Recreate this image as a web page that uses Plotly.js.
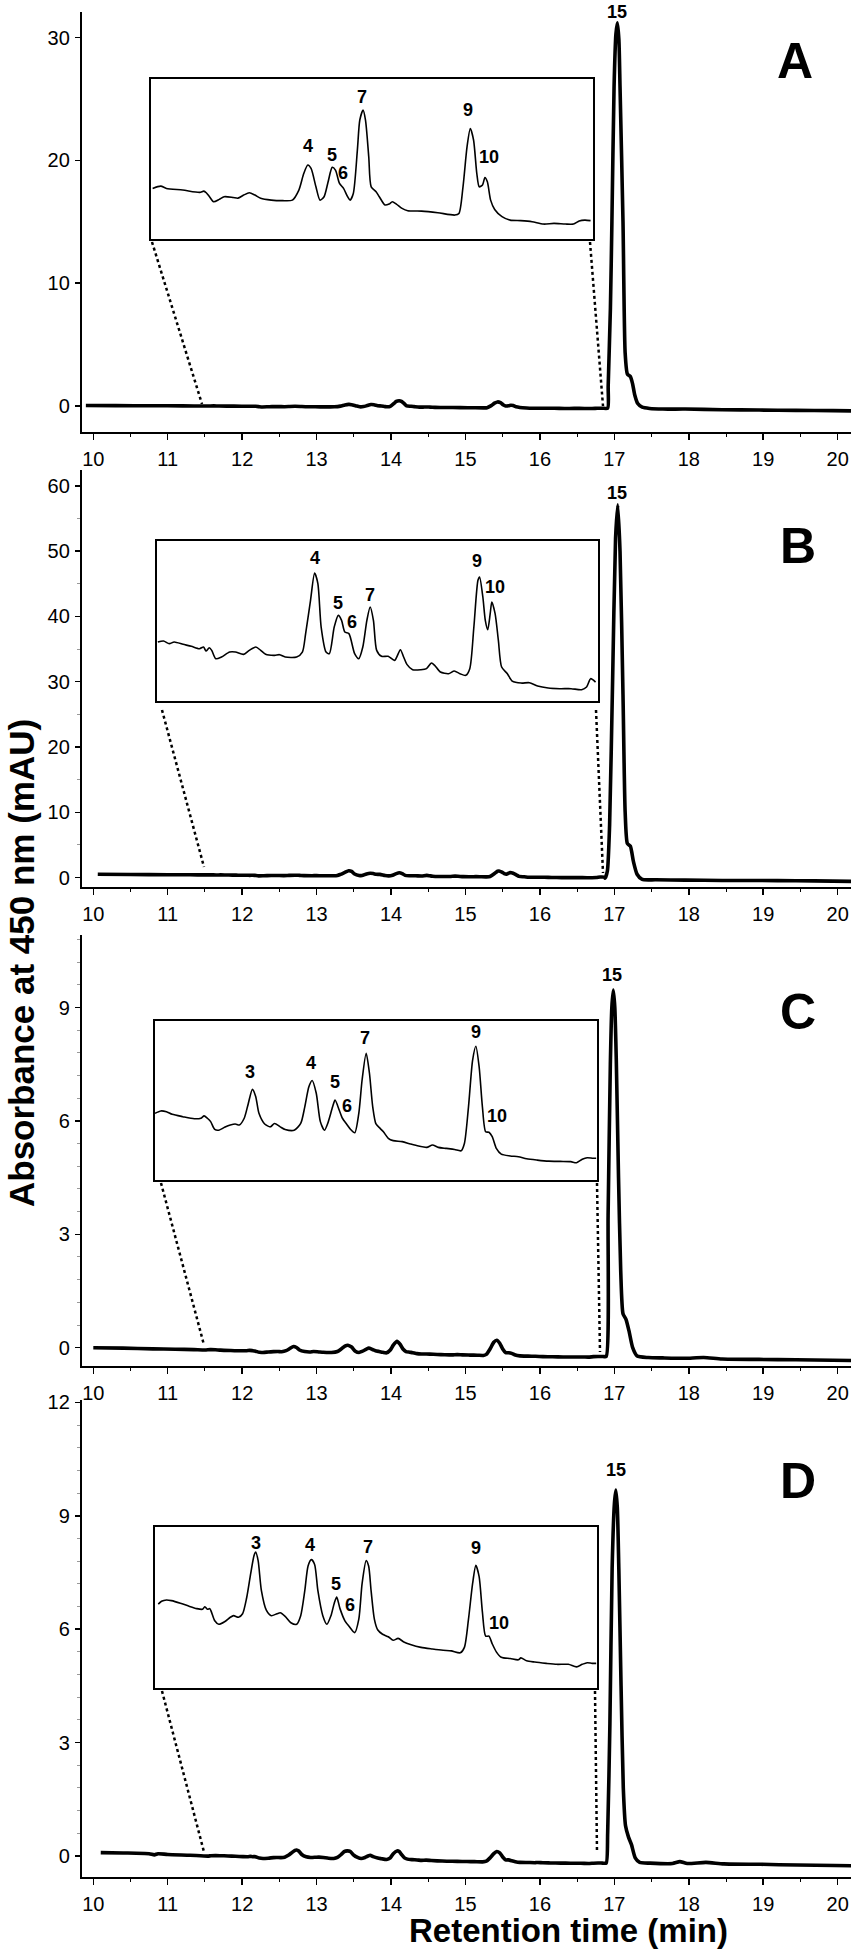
<!DOCTYPE html>
<html><head><meta charset="utf-8">
<script src="https://cdn.plot.ly/plotly-3.0.1.min.js"></script>
<style>html,body{margin:0;padding:0;background:#fff;}</style>
</head><body>
<div id="chart" style="width:866px;height:1950px;"></div>
<script>
// ---------------- DATA ----------------
const panelNames = ['A','B','C','D'];
const peak15Label = '15';
const xTickVals = [10,11,12,13,14,15,16,17,18,19,20];

// Panel A
const A_pre_t = [9.9, 10.3, 10.8, 11.2];
const A_pre_v = [0.04, 0.03, 0.02, 0.01];
const A_ins_t = [11.52,11.62,11.69,11.89,12.10,12.15,12.18,12.22,12.27,12.34,12.40,12.51,12.57,12.64,12.71,12.78,12.85,12.98,13.12,13.24,13.32,13.38,13.43,13.47,13.53,13.58,13.63,13.68,13.73,13.77,13.82,13.87,13.92,13.95,13.99,14.04,14.07,14.11,14.14,14.18,14.21,14.27,14.31,14.38,14.43,14.47,14.52,14.59,14.66,14.83,15.03,15.24,15.29,15.34,15.39,15.43,15.47,15.51,15.54,15.58,15.61,15.64,15.68,15.73,15.82,15.92,16.05,16.19,16.33,16.46,16.60,16.70,16.77,16.84,16.91];
const A_ins_v = [-0.002,0.011,-0.002,-0.011,-0.024,-0.017,-0.026,-0.048,-0.076,-0.063,-0.048,-0.052,-0.056,-0.039,-0.026,-0.039,-0.057,-0.067,-0.070,-0.067,-0.011,0.081,0.128,0.109,0.007,-0.067,-0.048,0.035,0.115,0.100,0.026,-0.002,-0.048,-0.067,-0.030,0.211,0.378,0.433,0.378,0.174,0.007,-0.020,-0.048,-0.094,-0.089,-0.076,-0.089,-0.113,-0.126,-0.128,-0.137,-0.150,-0.141,0.007,0.230,0.331,0.267,0.081,0.007,0.017,0.059,0.035,-0.067,-0.119,-0.159,-0.178,-0.181,-0.187,-0.200,-0.196,-0.200,-0.200,-0.183,-0.178,-0.181];
const A_post_t = [16.917,16.947,16.967,16.996,17.021,17.041,17.061,17.076,17.116,17.145,17.175,17.215,17.245,17.274,17.314,17.374,17.473,17.652,17.95,18.447,18.944,19.44,19.937,20.235];
const A_post_v = [1.6,8,15,26,30.3,31.2,29.8,26,15,4.3,2.6,2.4,1.8,0.9,0.2,-0.1,-0.2,-0.25,-0.25,-0.3,-0.33,-0.36,-0.38,-0.4];
const A_labels = ['4','5','6','7','9','10'];
const A_labelT = [13.43,13.73,13.82,14.11,15.43,15.61];

// Panel B
const B_pre_t = [10.06, 10.5, 11.0, 11.3];
const B_pre_v = [0.5, 0.46, 0.43, 0.41];
const B_ins_t = [11.51,11.58,11.65,11.71,11.82,11.92,12.02,12.07,12.10,12.14,12.17,12.22,12.29,12.39,12.46,12.56,12.63,12.71,12.77,12.83,12.94,13.00,13.07,13.21,13.28,13.32,13.38,13.43,13.47,13.51,13.57,13.61,13.67,13.72,13.76,13.80,13.85,13.92,13.97,14.02,14.07,14.11,14.15,14.19,14.25,14.33,14.41,14.48,14.52,14.56,14.63,14.73,14.80,14.86,14.90,14.97,15.07,15.14,15.21,15.28,15.33,15.38,15.43,15.45,15.49,15.52,15.55,15.58,15.60,15.64,15.68,15.72,15.79,15.85,15.96,16.06,16.16,16.29,16.43,16.57,16.70,16.76,16.81,16.87];
const B_ins_v = [0.400,0.409,0.385,0.400,0.379,0.361,0.339,0.355,0.318,0.348,0.324,0.248,0.264,0.309,0.309,0.288,0.324,0.355,0.324,0.288,0.279,0.285,0.264,0.264,0.309,0.476,0.779,1.027,0.930,0.536,0.309,0.294,0.536,0.642,0.597,0.491,0.476,0.294,0.248,0.355,0.597,0.718,0.597,0.324,0.270,0.270,0.233,0.330,0.264,0.197,0.148,0.148,0.158,0.209,0.188,0.127,0.112,0.136,0.112,0.097,0.158,0.536,0.961,0.991,0.809,0.597,0.512,0.658,0.764,0.658,0.415,0.173,0.112,0.045,0.027,0.030,0.000,-0.018,-0.024,-0.024,-0.033,-0.009,0.067,0.036];
const B_post_t = [16.876,16.906,16.936,16.976,17.016,17.046,17.076,17.116,17.145,17.175,17.215,17.255,17.305,17.374,17.553,17.95,18.447,18.944,19.44,19.937,20.235];
const B_post_v = [-0.1,1.0,8,30,52,57.1,50,28,10,5.2,4.8,2.5,0.5,-0.3,-0.35,-0.4,-0.45,-0.45,-0.5,-0.55,-0.6];
const B_labels = ['4','5','6','7','9','10'];
const B_labelT = [13.43,13.72,13.80,14.11,15.45,15.60];

// Panel C
const C_pre_t = [10.0, 10.4, 10.8, 11.1, 11.35];
const C_pre_v = [0.0, -0.01, -0.03, -0.04, -0.05];
const C_ins_t = [11.50,11.57,11.64,11.71,11.84,11.98,12.06,12.10,12.14,12.18,12.23,12.28,12.35,12.42,12.48,12.53,12.59,12.64,12.69,12.73,12.77,12.84,12.91,12.96,13.03,13.09,13.20,13.28,13.33,13.38,13.42,13.47,13.52,13.57,13.61,13.67,13.70,13.75,13.79,13.84,13.89,13.94,13.99,14.03,14.08,14.12,14.16,14.20,14.25,14.29,14.35,14.41,14.52,14.62,14.72,14.82,14.89,14.96,15.06,15.16,15.24,15.28,15.33,15.38,15.42,15.46,15.50,15.54,15.58,15.62,15.67,15.73,15.84,15.94,16.04,16.17,16.31,16.45,16.58,16.65,16.72,16.78,16.85,16.89];
const C_ins_v = [-0.060,-0.051,-0.054,-0.064,-0.073,-0.081,-0.079,-0.070,-0.079,-0.092,-0.122,-0.125,-0.114,-0.105,-0.101,-0.105,-0.079,-0.022,0.032,0.005,-0.060,-0.101,-0.112,-0.099,-0.112,-0.122,-0.125,-0.099,-0.035,0.042,0.066,0.017,-0.092,-0.125,-0.099,-0.035,-0.009,-0.047,-0.079,-0.101,-0.122,-0.135,-0.060,0.068,0.171,0.094,-0.035,-0.101,-0.118,-0.131,-0.156,-0.165,-0.169,-0.178,-0.186,-0.191,-0.182,-0.191,-0.195,-0.199,-0.204,-0.176,-0.035,0.144,0.198,0.119,-0.035,-0.131,-0.133,-0.150,-0.195,-0.217,-0.224,-0.227,-0.235,-0.240,-0.244,-0.245,-0.246,-0.250,-0.237,-0.231,-0.233,-0.233];
const C_post_t = [16.916,16.946,16.966,16.986,17.006,17.026,17.056,17.086,17.116,17.156,17.196,17.246,17.306,17.455,17.652,17.95,18.2,18.447,18.944,19.44,19.937,20.235];
const C_post_v = [3.5,7.5,9.0,9.46,9.0,7.6,4.5,2.0,0.9,0.75,0.45,0.0,-0.22,-0.26,-0.27,-0.28,-0.26,-0.3,-0.31,-0.32,-0.33,-0.34];
const C_labels = ['3','4','5','6','7','9','10'];
const C_labelT = [12.69,13.42,13.70,13.79,14.08,15.42,15.56];

// Panel D
const D_pre_t = [10.1, 10.4, 10.75, 10.82, 10.87, 11.0, 11.3];
const D_pre_v = [0.09, 0.08, 0.06, 0.03, 0.06, 0.04, 0.02];
const D_ins_t = [11.54,11.58,11.64,11.70,11.81,11.91,12.01,12.08,12.11,12.14,12.17,12.19,12.23,12.28,12.35,12.42,12.46,12.52,12.57,12.62,12.67,12.71,12.73,12.76,12.80,12.86,12.92,12.99,13.03,13.09,13.16,13.23,13.28,13.33,13.37,13.41,13.45,13.49,13.55,13.60,13.65,13.69,13.72,13.76,13.82,13.87,13.94,13.99,14.03,14.08,14.11,14.14,14.18,14.22,14.28,14.35,14.41,14.47,14.54,14.62,14.75,14.89,15.02,15.12,15.23,15.28,15.33,15.38,15.42,15.46,15.50,15.54,15.58,15.62,15.67,15.73,15.84,15.94,15.97,16.04,16.14,16.28,16.41,16.55,16.65,16.72,16.78,16.84,16.89];
const D_ins_v = [-0.003,0.006,0.010,0.008,0.000,-0.009,-0.017,-0.019,-0.011,-0.019,-0.017,-0.028,-0.055,-0.066,-0.058,-0.044,-0.039,-0.044,-0.033,0.017,0.094,0.149,0.160,0.133,0.039,-0.022,-0.039,-0.033,-0.030,-0.041,-0.061,-0.066,-0.039,0.039,0.116,0.136,0.121,0.039,-0.039,-0.066,-0.039,0.000,0.019,-0.017,-0.055,-0.072,-0.092,-0.050,0.061,0.133,0.116,0.039,-0.050,-0.083,-0.097,-0.105,-0.116,-0.110,-0.121,-0.129,-0.138,-0.143,-0.147,-0.149,-0.155,-0.138,-0.050,0.061,0.118,0.083,-0.028,-0.103,-0.103,-0.127,-0.152,-0.169,-0.173,-0.177,-0.171,-0.180,-0.184,-0.188,-0.191,-0.191,-0.199,-0.191,-0.186,-0.188,-0.188];
const D_post_t = [16.91,16.94,16.97,17.0,17.02,17.04,17.06,17.09,17.12,17.15,17.19,17.23,17.28,17.34,17.48,17.78,17.88,17.98,18.23,18.47,18.97,19.46,19.96,20.26];
const D_post_v = [0.6,3.5,7.6,9.3,9.68,9.2,7.6,4.5,1.8,0.8,0.5,0.3,-0.05,-0.17,-0.19,-0.2,-0.15,-0.2,-0.17,-0.21,-0.22,-0.24,-0.25,-0.26];
const D_labels = ['3','4','5','6','7','9','10'];
const D_labelT = [12.73,13.41,13.72,13.78,14.08,15.42,15.55];

const yTitle = 'Absorbance at 450 nm (mAU)';
const xTitle = 'Retention time (min)';

// ---------------- STYLE / LAYOUT ----------------
const W = 866, H = 1950;
const FONT = 'Liberation Sans, Arial, Helvetica, sans-serif';
const px = x => x / W;
const py = y => 1 - y / H;

const data = {
  A:{pre:[A_pre_t,A_pre_v], ins:[A_ins_t,A_ins_v], post:[A_post_t,A_post_v], labels:A_labels, labelT:A_labelT},
  B:{pre:[B_pre_t,B_pre_v], ins:[B_ins_t,B_ins_v], post:[B_post_t,B_post_v], labels:B_labels, labelT:B_labelT},
  C:{pre:[C_pre_t,C_pre_v], ins:[C_ins_t,C_ins_v], post:[C_post_t,C_post_v], labels:C_labels, labelT:C_labelT},
  D:{pre:[D_pre_t,D_pre_v], ins:[D_ins_t,D_ins_v], post:[D_post_t,D_post_v], labels:D_labels, labelT:D_labelT}
};

const style = {
  A:{yd:[12,432], yr:[-2.117,32.076], dtick:10, minor:null, box:[151,593,79,239], ir:[-0.283,0.606], ix:[11.5,16.94],
     dots:[[152,242,202,404],[590,242,603,406]], xs:[0,0,3,-1,-2,4], ys:[19,12,10,13,18,20], p15:[0,11], letter:[795,61]},
  B:{yd:[470,887], yr:[-1.456,62.45], dtick:10, minor:5, box:[157,598,541,701], ir:[-0.136,1.318], ix:[11.5,16.9],
     dots:[[162,710,204,867],[596,710,603,873]], xs:[0,0,7,0,-3,3], ys:[15,12,10,12,16,15], p15:[-1,12], letter:[798,546]},
  C:{yd:[935,1366], yr:[-0.484,10.918], dtick:3, minor:0.6, box:[155,597,1021,1180], ir:[-0.3165,0.295], ix:[11.5,16.9],
     dots:[[161,1183,204,1345],[597,1183,600,1352]], xs:[-2,-1,0,5,-1,0,10], ys:[17,18,18,12,15,14,16], p15:[-1,15], letter:[798,1012]},
  D:{yd:[1400,1877], yr:[-0.556,12.063], dtick:3, minor:0.6, box:[155,597,1527,1688], ir:[-0.265,0.238], ix:[11.5,16.9],
     dots:[[162,1691,204,1852],[595,1691,597,1852]], xs:[0,-1,-1,8,2,0,12], ys:[9,15,13,8,14,17,13], p15:[0,20], letter:[798,1481]}
};

function interp(ts, vs, t){
  for (let i=0;i<ts.length-1;i++){
    if (t>=ts[i] && t<=ts[i+1]){ const f=(t-ts[i])/(ts[i+1]-ts[i]); return vs[i]+f*(vs[i+1]-vs[i]); }
  }
  return t<ts[0]?vs[0]:vs[vs.length-1];
}

const traces = [];
const layout = {
  width: W, height: H, margin:{l:0,r:0,t:0,b:0},
  paper_bgcolor:'#fff', plot_bgcolor:'rgba(0,0,0,0)', showlegend:false,
  font:{family:FONT, color:'#000'},
  annotations:[], shapes:[]
};

panelNames.forEach((nm, i) => {
  const d = data[nm], s = style[nm];
  const k = i+1, kin = i+5;
  const xa = 'x'+k, ya = 'y'+k, xi = 'x'+kin, yi = 'y'+kin;
  const mainT = d.pre[0].concat(d.ins[0], d.post[0]);
  const mainV = d.pre[1].concat(d.ins[1], d.post[1]);
  traces.push({x:mainT, y:mainV, xaxis:xa, yaxis:ya, mode:'lines', type:'scatter',
    line:{color:'#000', width:3.6, shape:'spline', smoothing:0.6}, hoverinfo:'skip'});
  traces.push({x:d.ins[0], y:d.ins[1], xaxis:xi, yaxis:yi, mode:'lines', type:'scatter',
    line:{color:'#000', width:1.6, shape:'spline', smoothing:0.7}, hoverinfo:'skip'});

  const xkey = k===1?'xaxis':'xaxis'+k, ykey = k===1?'yaxis':'yaxis'+k;
  layout[xkey] = {domain:[px(82),px(851)], anchor:ya, range:[9.8482,20.179],
    tickmode:'array', tickvals:xTickVals, ticks:'outside', ticklen:6, tickwidth:1.5, tickcolor:'#000',
    showline:true, linecolor:'#000', linewidth:2.2, showgrid:false, zeroline:false,
    tickfont:{family:FONT, size:20, color:'#000'}, ticklabelstandoff:2,
    minor:{ticks:'outside', tickmode:'linear', tick0:10, dtick:0.5, ticklen:3, tickwidth:1, tickcolor:'#000', showgrid:false}};
  const yax = {domain:[py(s.yd[1]), py(s.yd[0])], anchor:xa, range:s.yr,
    tickmode:'linear', tick0:0, dtick:s.dtick, ticks:'outside', ticklen:5, tickwidth:1.5, tickcolor:'#000',
    showline:true, linecolor:'#000', linewidth:2.2, showgrid:false, zeroline:false,
    tickfont:{family:FONT, size:20, color:'#000'}, ticklabelstandoff:1};
  if (s.minor) yax.minor = {ticks:'outside', tickmode:'linear', tick0:0, dtick:s.minor, ticklen:3, tickwidth:1, tickcolor:'#999', showgrid:false};
  layout[ykey] = yax;

  layout['xaxis'+kin] = {domain:[px(s.box[0]),px(s.box[1])], anchor:yi, range:s.ix,
    showline:true, mirror:true, linecolor:'#000', linewidth:1.6, ticks:'', showticklabels:false, showgrid:false, zeroline:false};
  layout['yaxis'+kin] = {domain:[py(s.box[3]),py(s.box[2])], anchor:xi, range:s.ir,
    showline:true, mirror:true, linecolor:'#000', linewidth:1.6, ticks:'', showticklabels:false, showgrid:false, zeroline:false};

  // peak labels in inset
  d.labels.forEach((lab, j) => {
    const t = d.labelT[j];
    layout.annotations.push({xref:xi, yref:yi, x:t, y:interp(d.ins[0], d.ins[1], t), text:lab, showarrow:false,
      xanchor:'center', yanchor:'middle', xshift:s.xs[j], yshift:s.ys[j],
      font:{family:FONT, size:18, color:'#000', weight:'bold'}});
  });
  // main peak 15 label
  let mi = 0; d.post[1].forEach((v,j)=>{ if (v>d.post[1][mi]) mi=j; });
  layout.annotations.push({xref:xa, yref:ya, x:d.post[0][mi], y:d.post[1][mi], text:peak15Label, showarrow:false,
    xanchor:'center', yanchor:'middle', xshift:s.p15[0], yshift:s.p15[1],
    font:{family:FONT, size:18, color:'#000', weight:'bold'}});
  // panel letter
  layout.annotations.push({xref:'paper', yref:'paper', x:px(s.letter[0]), y:py(s.letter[1]), text:nm, showarrow:false,
    xanchor:'center', yanchor:'middle', font:{family:FONT, size:50, color:'#000', weight:'bold'}});
  // dotted connectors
  s.dots.forEach(dl => {
    layout.shapes.push({type:'line', xref:'paper', yref:'paper', x0:px(dl[0]), y0:py(dl[1]), x1:px(dl[2]), y1:py(dl[3]),
      line:{color:'#000', width:2.5, dash:'dot'}});
  });
});

layout.annotations.push({xref:'paper', yref:'paper', x:px(21), y:py(963), text:yTitle, showarrow:false, textangle:-90,
  xanchor:'center', yanchor:'middle', borderpad:0, font:{family:FONT, size:35, color:'#000', weight:'bold'}});
layout.annotations.push({xref:'paper', yref:'paper', x:px(568), y:0, text:xTitle, showarrow:false,
  xanchor:'center', yanchor:'bottom', borderpad:0, font:{family:FONT, size:33, color:'#000', weight:'bold'}});

Plotly.newPlot('chart', traces, layout, {staticPlot:true, displayModeBar:false});
</script>
</body></html>
